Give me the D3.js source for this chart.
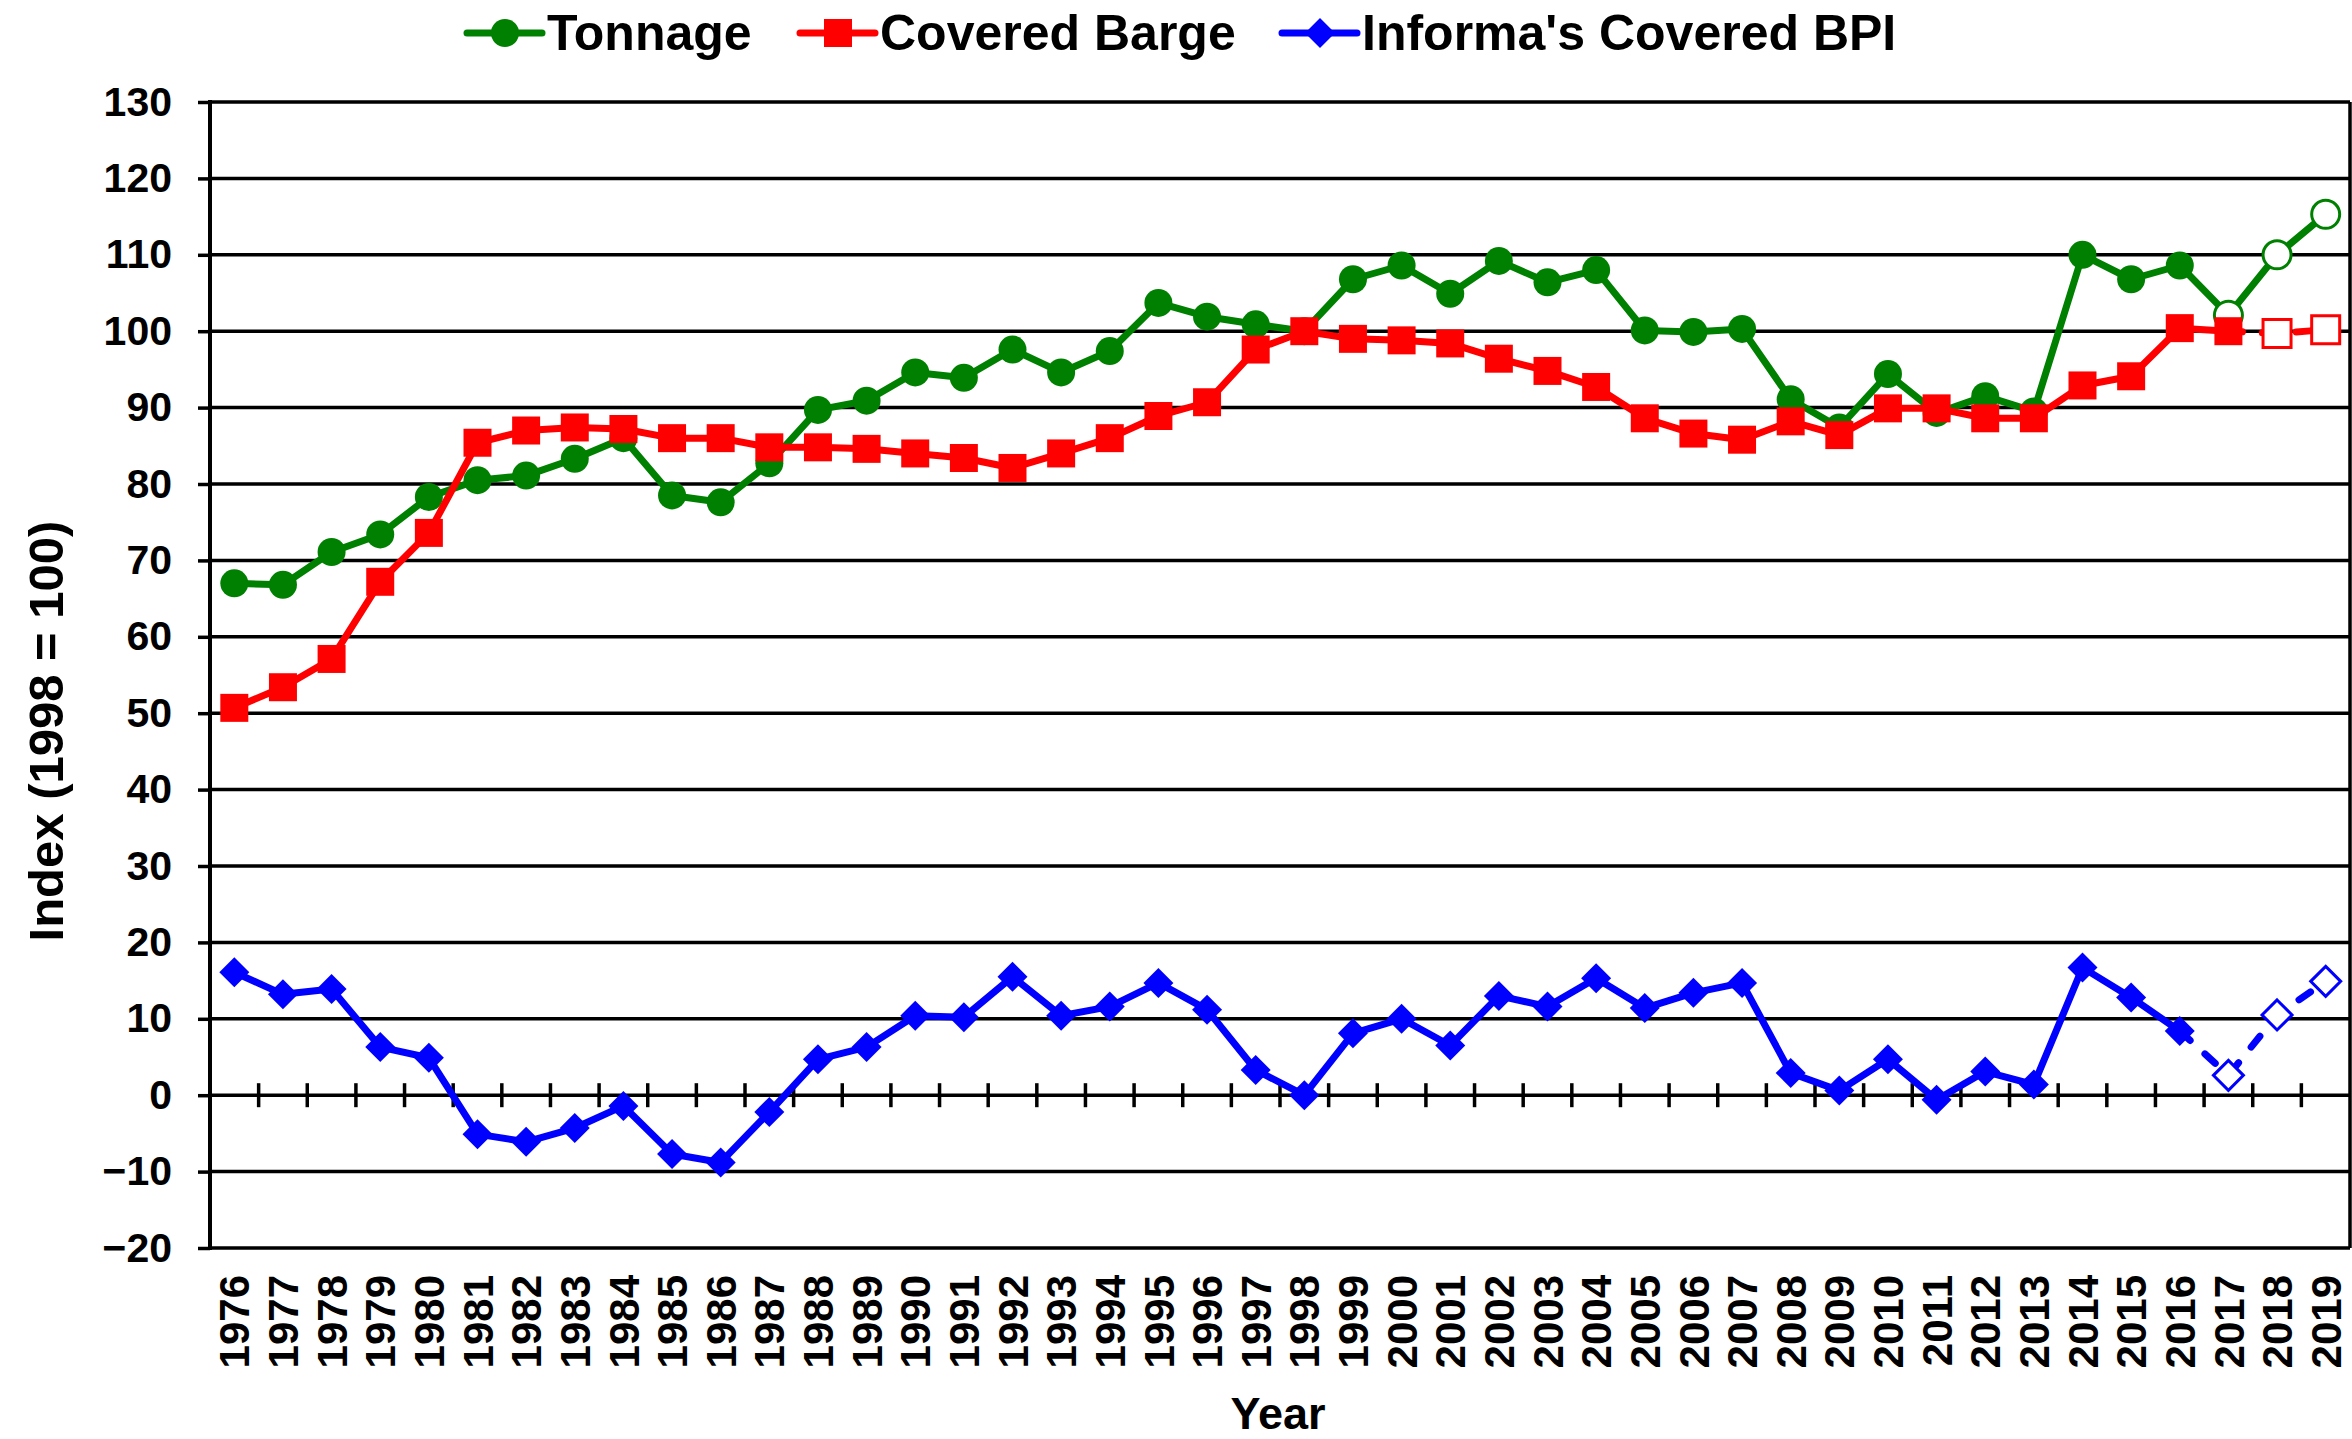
<!DOCTYPE html>
<html>
<head>
<meta charset="utf-8">
<script src="https://cdn.jsdelivr.net/npm/d3@7"></script>
<style>
  body { margin: 0; background: #fff; }
  text { font-family: "Liberation Sans", Arial, sans-serif; font-weight: bold; fill: #000; }
</style>
</head>
<body>
<svg id="chart"></svg>
<script>
// categories
var years = ["1976","1977","1978","1979","1980","1981","1982","1983","1984","1985",
  "1986","1987","1988","1989","1990","1991","1992","1993","1994","1995",
  "1996","1997","1998","1999","2000","2001","2002","2003","2004","2005",
  "2006","2007","2008","2009","2010","2011","2012","2013","2014","2015",
  "2016","2017","2018","2019"];

// series values (index, 1998 = 100)
var tonnage = [67.0, 66.8, 71.1, 73.4, 78.3, 80.5, 81.1, 83.3, 86.0, 78.5,
  77.6, 82.7, 89.7, 90.9, 94.6, 93.9, 97.6, 94.6, 97.4, 103.7,
  101.9, 100.9, 100.0, 106.8, 108.6, 104.9, 109.2, 106.4, 108.0, 100.1,
  99.9, 100.3, 91.1, 87.4, 94.4, 89.3, 91.5, 89.5, 110.0, 106.8,
  108.6, 102.1, 110.0, 115.3];

var coveredBarge = [50.7, 53.4, 57.1, 67.2, 73.6, 85.4, 87.0, 87.4, 87.2, 86.0,
  86.0, 84.8, 84.8, 84.6, 84.0, 83.4, 82.1, 84.0, 86.0, 88.9,
  90.7, 97.6, 100.0, 99.0, 98.8, 98.4, 96.4, 94.8, 92.7, 88.6,
  86.6, 85.8, 88.2, 86.4, 89.9, 89.9, 88.6, 88.6, 92.9, 94.1,
  100.4, 100.0, 99.7, 100.2];

var coveredBPI = [16.1, 13.2, 13.9, 6.3, 4.9, -5.1, -6.1, -4.3, -1.4, -7.7,
  -8.8, -2.2, 4.7, 6.3, 10.4, 10.2, 15.5, 10.4, 11.6, 14.7,
  11.2, 3.3, 0.0, 8.1, 10.0, 6.5, 13.0, 11.6, 15.3, 11.4,
  13.4, 14.7, 2.9, 0.6, 4.7, -0.6, 3.1, 1.4, 16.7, 12.8,
  8.4, 2.6, 10.5, 14.9];

// y-axis tick labels
var yTicks = [-20, -10, 0, 10, 20, 30, 40, 50, 60, 70, 80, 90, 100, 110, 120, 130];

var width = 2352, height = 1439;
var plotLeft = 210, plotRight = 2350, plotTop = 102, plotBottom = 1248;

var svg = d3.select("#chart")
  .attr("width", width)
  .attr("height", height);

var x = d3.scaleBand().domain(years).range([plotLeft, plotRight]);
var y = d3.scaleLinear().domain([-20, 130]).range([plotBottom, plotTop]);
function cx(d) { return x(d) + x.bandwidth() / 2; }

// grid lines
svg.append("g").selectAll("line")
  .data(yTicks)
  .enter()
  .append("line")
  .attr("x1", plotLeft).attr("x2", plotRight)
  .attr("y1", function(d) { return y(d); })
  .attr("y2", function(d) { return y(d); })
  .style("stroke", "#000")
  .style("stroke-width", 3.5);

// right border
svg.append("line")
  .attr("x1", plotRight).attr("x2", plotRight)
  .attr("y1", y(130)).attr("y2", y(-20))
  .style("stroke", "#000")
  .style("stroke-width", 3.5);

// y axis
var yAxis = svg.append("g")
  .attr("transform", "translate(" + plotLeft + ",0)")
  .call(d3.axisLeft(y).tickValues(yTicks).tickSize(12).tickPadding(26));
yAxis.select(".domain").remove();
yAxis.selectAll("line").style("stroke", "#000").style("stroke-width", 3.5);
yAxis.selectAll("text")
  .style("font-size", "41px")
  .style("font-family", "'Liberation Sans', Arial, sans-serif")
  .style("font-weight", "bold");

svg.append("line")
  .attr("x1", plotLeft).attr("x2", plotLeft)
  .attr("y1", y(130) - 2).attr("y2", y(-20) + 2)
  .style("stroke", "#000")
  .style("stroke-width", 4);

// tick marks on the zero line, between categories
svg.append("g").selectAll("line")
  .data(years.slice(1))
  .enter()
  .append("line")
  .attr("x1", function(d) { return x(d); })
  .attr("x2", function(d) { return x(d); })
  .attr("y1", y(0) - 12)
  .attr("y2", y(0) + 12)
  .style("stroke", "#000")
  .style("stroke-width", 3.5);

// x axis labels
var xAxis = svg.append("g")
  .attr("transform", "translate(0," + plotBottom + ")")
  .call(d3.axisBottom(x).tickSize(0));
xAxis.select(".domain").remove();
xAxis.selectAll("text")
  .attr("transform", "rotate(-90)")
  .attr("x", -27)
  .attr("y", 0)
  .attr("dy", "0.36em")
  .attr("text-anchor", "end")
  .style("font-size", "42px")
  .style("font-family", "'Liberation Sans', Arial, sans-serif")
  .style("font-weight", "bold");

// axis titles
svg.append("text")
  .attr("transform", "translate(63,731) rotate(-90)")
  .attr("text-anchor", "middle")
  .style("font-size", "49px")
  .text("Index (1998 = 100)");

svg.append("text")
  .attr("x", 1278)
  .attr("y", 1429)
  .attr("text-anchor", "middle")
  .style("font-size", "45px")
  .text("Year");

// marker shapes
function markerPath(shape) {
  if (shape == "circle") return d3.symbol().type(d3.symbolCircle).size(Math.PI * 14 * 14)();
  if (shape == "square") return d3.symbol().type(d3.symbolSquare).size(28 * 28)();
  return "M0,-15L15,0L0,15L-15,0Z";
}

function drawSeries(values, color, shape, dashFrom, openFrom) {
  var pts = values.map(function(v, i) { return {year: years[i], value: v, i: i}; });
  var line = d3.line()
    .x(function(d) { return cx(d.year); })
    .y(function(d) { return y(d.value); });
  var g = svg.append("g");

  g.append("path")
    .datum(pts.filter(function(d) { return d.i <= dashFrom; }))
    .attr("d", line)
    .style("fill", "none")
    .style("stroke", color)
    .style("stroke-width", 7)
    .style("stroke-linejoin", "round");

  if (dashFrom < pts.length - 1) {
    g.append("path")
      .datum(pts.filter(function(d) { return d.i >= dashFrom; }))
      .attr("d", line)
      .style("fill", "none")
      .style("stroke", color)
      .style("stroke-width", 7)
      .style("stroke-linecap", "round")
      .style("stroke-dasharray", "14,20");
  }

  g.selectAll(".mk")
    .data(pts)
    .enter()
    .append("path")
    .attr("class", "mk")
    .attr("d", markerPath(shape))
    .attr("transform", function(d) { return "translate(" + cx(d.year) + "," + y(d.value) + ")"; })
    .style("fill", function(d) { return d.i >= openFrom ? "#fff" : color; })
    .style("stroke", color)
    .style("stroke-width", function(d) { return d.i >= openFrom ? 3 : 0; });
}

drawSeries(tonnage, "#008000", "circle", years.length - 1, years.indexOf("2017"));
drawSeries(coveredBarge, "#ff0000", "square", years.indexOf("2017"), years.indexOf("2018"));
drawSeries(coveredBPI, "#0000ff", "diamond", years.indexOf("2016"), years.indexOf("2017"));

// legend
var legendItems = [
  {name: "Tonnage", color: "#008000", shape: "circle", x: 467},
  {name: "Covered Barge", color: "#ff0000", shape: "square", x: 800},
  {name: "Informa's Covered BPI", color: "#0000ff", shape: "diamond", x: 1282}
];
var legend = svg.append("g").selectAll("g")
  .data(legendItems)
  .enter()
  .append("g")
  .attr("transform", function(d) { return "translate(" + d.x + ",33)"; });
legend.append("line")
  .attr("x1", 0).attr("x2", 75)
  .style("stroke", function(d) { return d.color; })
  .style("stroke-width", 7)
  .style("stroke-linecap", "round");
legend.append("path")
  .attr("d", function(d) { return markerPath(d.shape); })
  .attr("transform", "translate(38,0)")
  .style("fill", function(d) { return d.color; });
legend.append("text")
  .attr("x", 80)
  .attr("y", 17)
  .style("font-size", "50px")
  .text(function(d) { return d.name; });
</script>
</body>
</html>
